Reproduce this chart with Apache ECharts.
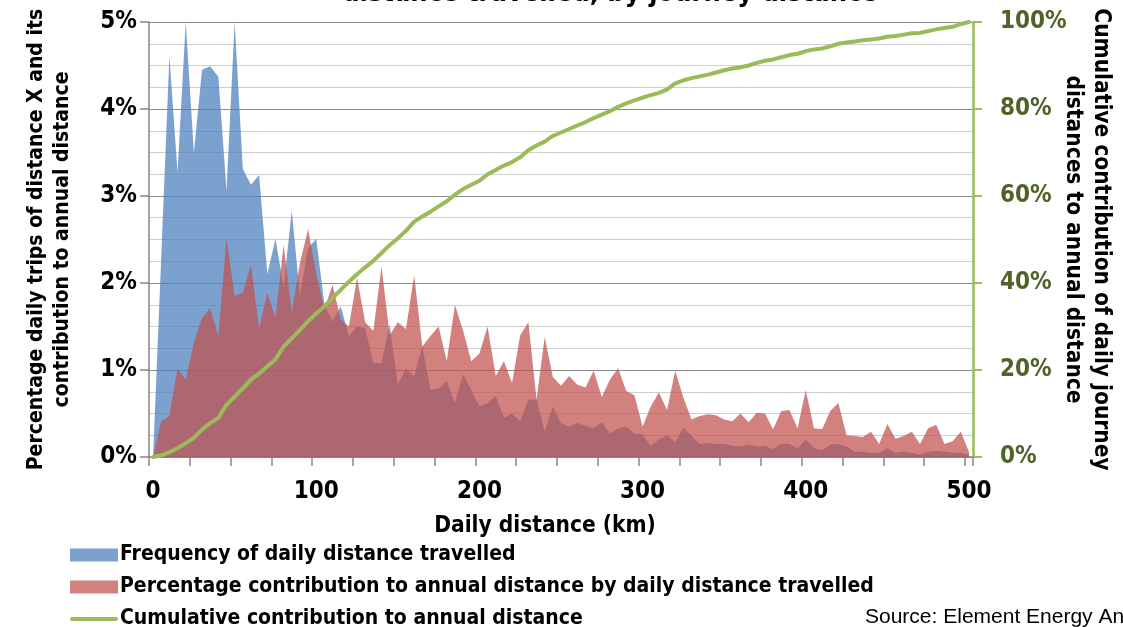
<!DOCTYPE html>
<html>
<head>
<meta charset="utf-8">
<script src="https://cdn.jsdelivr.net/npm/echarts@6/dist/echarts.min.js"></script>
<style>
html,body{margin:0;padding:0;background:#fff;}
#chart{width:1123px;height:627px;}
</style>
</head>
<body>
<div id="chart"></div>
<script>
// Daily distance categories (km)
const distances = ["0","5","10","15","20","25","30","35","40","45","50","55","60","65","70","75","80","85","90","95",
"100","105","110","115","120","125","130","135","140","145","150","155","160","165","170","175","180","185","190","195",
"200","205","210","215","220","225","230","235","240","245","250","255","260","265","270","275","280","285","290","295",
"300","305","310","315","320","325","330","335","340","345","350","355","360","365","370","375","380","385","390","395",
"400","405","410","415","420","425","430","435","440","445","450","455","460","465","470","475","480","485","490","495","500"];

// Frequency of daily distance travelled (%)
const frequency = [0,2.3,4.61,3.27,5.0,3.5,4.45,4.49,4.37,3.06,5.0,3.31,3.13,3.24,2.1,2.51,1.95,2.83,1.85,2.4,
2.51,1.75,1.56,1.73,1.39,1.5,1.48,1.08,1.08,1.52,0.83,1.02,0.93,1.27,0.77,0.79,0.87,0.62,0.95,0.77,
0.58,0.62,0.7,0.45,0.5,0.41,0.66,0.66,0.29,0.58,0.39,0.35,0.39,0.36,0.33,0.4,0.27,0.33,0.35,0.27,
0.26,0.13,0.2,0.25,0.17,0.34,0.24,0.15,0.16,0.15,0.15,0.13,0.12,0.14,0.12,0.13,0.09,0.15,0.15,0.1,
0.2,0.1,0.08,0.14,0.15,0.12,0.06,0.06,0.05,0.05,0.1,0.05,0.06,0.05,0.03,0.06,0.07,0.06,0.05,0.05,0.03];

// Percentage contribution to annual distance (%)
const contribution = [0,0.41,0.47,1.02,0.89,1.31,1.6,1.71,1.39,2.52,1.85,1.89,2.21,1.48,1.89,1.6,2.44,1.66,2.23,2.62,
2.1,1.7,1.98,1.58,1.5,2.06,1.55,1.45,2.19,1.4,1.55,1.47,2.09,1.27,1.39,1.5,1.1,1.75,1.45,1.1,
1.19,1.5,0.93,1.1,0.85,1.4,1.55,0.66,1.38,0.92,0.82,0.93,0.83,0.8,0.99,0.69,0.89,1.02,0.76,0.71,
0.35,0.58,0.74,0.54,0.99,0.68,0.43,0.47,0.49,0.48,0.43,0.41,0.5,0.4,0.51,0.5,0.32,0.53,0.54,0.33,
0.77,0.33,0.32,0.53,0.62,0.25,0.24,0.23,0.29,0.15,0.38,0.21,0.24,0.29,0.15,0.33,0.37,0.15,0.18,0.29,0.06];

// Cumulative contribution to annual distance (%)
const cumulative = [0,0.4,1.1,2.0,3.2,4.4,6.3,7.8,9.0,12.0,13.9,15.8,17.8,19.2,20.8,22.4,25.4,27.3,29.2,31.2,
33.0,34.6,36.6,38.4,40.3,42.0,43.6,45.1,46.9,48.7,50.3,52.0,54.1,55.3,56.4,57.6,58.8,60.3,61.6,62.6,
63.5,65.0,66.0,67.0,67.8,68.9,70.5,71.6,72.5,73.8,74.6,75.4,76.2,77.0,77.9,78.7,79.5,80.5,81.3,82.0,
82.6,83.2,83.7,84.5,85.9,86.6,87.1,87.5,87.9,88.4,88.9,89.3,89.6,90.0,90.6,91.1,91.4,91.9,92.4,92.7,
93.3,93.7,93.9,94.4,95.0,95.3,95.5,95.8,96.0,96.2,96.6,96.8,97.1,97.4,97.5,97.9,98.3,98.6,98.9,99.5,100];

const seriesNames = [
  "Frequency of daily distance travelled",
  "Percentage contribution to annual distance by daily distance travelled",
  "Cumulative contribution to annual distance"
];
const leftTicks = ["0%","1%","2%","3%","4%","5%"];
const rightTicks = ["0%","20%","40%","60%","80%","100%"];

const FONT = "'Liberation Sans Narrow','DejaVu Sans Condensed','Liberation Sans',sans-serif";
const chart = echarts.init(document.getElementById('chart'), null, {renderer:'canvas'});
chart.setOption({
  animation:false,
  backgroundColor:'#ffffff',
  textStyle:{fontFamily:FONT},
  grid:{left:149, right:150, top:22, bottom:170, containLabel:false, outerBoundsMode:'none'},
  legend:{
    orient:'vertical', left:70, top:544, padding:0, itemGap:10, itemWidth:48, itemHeight:13,
    height:100,
    textStyle:{fontFamily:FONT, fontWeight:'bold', fontSize:21, color:'#000', lineHeight:22, padding:[0,0,0,-3]},
    data:[
      {name:seriesNames[0], icon:'rect'},
      {name:seriesNames[1], icon:'rect'},
      {name:seriesNames[2], icon:'path://M2,0 L46,0 A2,2 0 0 1 46,4 L2,4 A2,2 0 0 1 2,0 Z'}
    ]
  },
  xAxis:{
    type:'category', data:distances, boundaryGap:true,
    axisLine:{lineStyle:{color:'#868686', width:1.5}},
    axisTick:{show:true, interval:4, length:9, lineStyle:{color:'#868686', width:1.5}},
    axisLabel:{interval:19, margin:23, fontFamily:FONT, fontWeight:'bold', fontSize:24, color:'#000'},
    splitLine:{show:false}
  },
  yAxis:[{
    type:'value', min:0, max:5, interval:1, position:'left',
    name:'Percentage daily trips of distance X and its\ncontribution to annual distance',
    nameLocation:'middle', nameRotate:90, nameGap:73,
    nameTextStyle:{fontFamily:FONT, fontWeight:'bold', fontSize:21, color:'#000', lineHeight:26},
    axisLine:{show:true, lineStyle:{color:'#868686', width:1.5}},
    axisTick:{show:true, length:9, lineStyle:{color:'#868686', width:1.5}},
    axisLabel:{margin:12, fontFamily:FONT, fontWeight:'bold', fontSize:24, color:'#000',
      formatter:(v)=>leftTicks[Math.round(v)]},
    splitLine:{show:true, lineStyle:{color:'#8c8c8c', width:1.2}},
    minorTick:{show:false, splitNumber:4},
    minorSplitLine:{show:true, lineStyle:{color:'#cfcfcf', width:1.2}}
  },{
    type:'value', min:0, max:100, interval:20, position:'right',
    name:'Cumulative contribution of daily journey\ndistances to annual distance',
    nameLocation:'middle', nameRotate:-90, nameGap:86, nameMoveOverlap:false,
    nameTextStyle:{fontFamily:FONT, fontWeight:'bold', fontSize:22.5, color:'#000', lineHeight:28},
    axisLine:{show:true, lineStyle:{color:'#9BBB59', width:2.5}},
    axisTick:{show:true, length:9, lineStyle:{color:'#9BBB59', width:2}},
    axisLabel:{margin:27, fontFamily:FONT, fontWeight:'bold', fontSize:24, color:'#4F6228',
      formatter:(v)=>rightTicks[Math.round(v/20)]},
    splitLine:{show:false}
  }],
  series:[{
    name:seriesNames[0], type:'line', data:frequency, yAxisIndex:0,
    symbol:'none', showSymbol:false, lineStyle:{width:0},
    itemStyle:{color:'rgba(79,129,189,0.75)'},
    areaStyle:{color:'rgba(79,129,189,0.75)', opacity:1}, z:1
  },{
    name:seriesNames[1], type:'line', data:contribution, yAxisIndex:0,
    symbol:'none', showSymbol:false, lineStyle:{width:0},
    itemStyle:{color:'rgba(192,80,77,0.72)'},
    areaStyle:{color:'rgba(192,80,77,0.72)', opacity:1}, z:2
  },{
    name:seriesNames[2], type:'line', data:cumulative, yAxisIndex:1,
    symbol:'none', showSymbol:false,
    itemStyle:{color:'#9BBB59'},
    lineStyle:{color:'#9BBB59', width:4, cap:'round', join:'round'}, z:3
  }],
  graphic:[{
    type:'text', x:610, y:-20,
    style:{text:'distance travelled, by journey distance', font:"bold 27px "+FONT, fill:'#000', textAlign:'center'}
  },{
    type:'text', x:545, y:526,
    style:{text:'Daily distance (km)', font:"bold 22.5px "+FONT, fill:'#000', textAlign:'center', textVerticalAlign:'middle'}
  },{
    type:'text', x:865, y:617,
    style:{text:'Source: Element Energy Analysis', font:"21px 'Liberation Sans',Arial,sans-serif", fill:'#000', textAlign:'left', textVerticalAlign:'middle'}
  }]
});
</script>
</body>
</html>
